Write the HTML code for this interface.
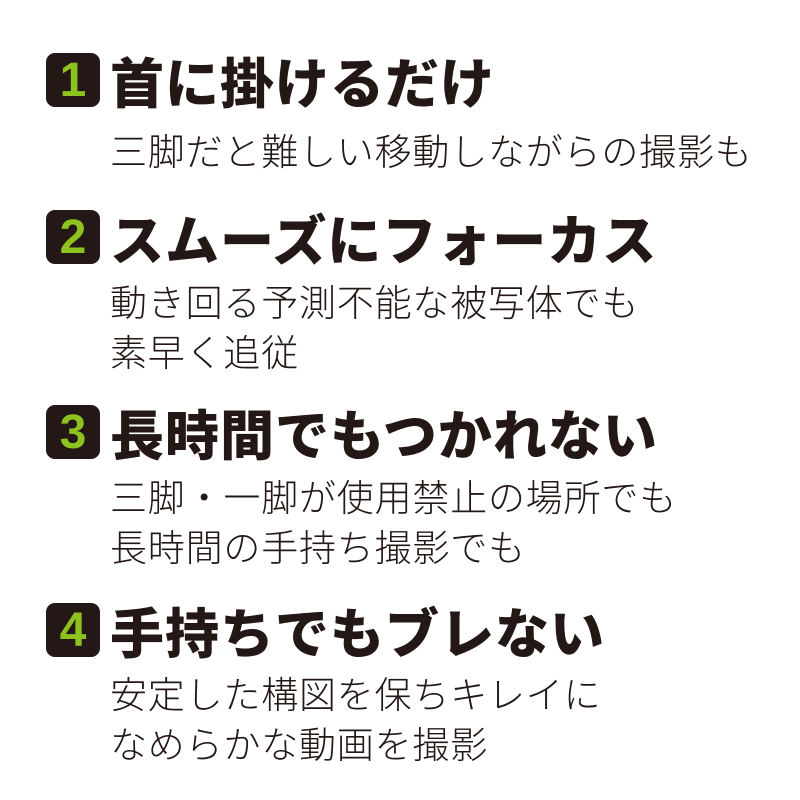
<!DOCTYPE html>
<html><head><meta charset="utf-8"><style>
html,body{margin:0;padding:0;background:#fff;}
body{width:800px;height:800px;position:relative;overflow:hidden;font-family:"Liberation Sans","Noto Sans CJK JP",sans-serif;color:#231815;}
.b{position:absolute;left:46px;width:54px;height:54px;background:#231815;border-radius:9px;color:#8dc21f;font-weight:900;font-size:48px;line-height:56px;text-align:center;font-family:"Liberation Sans",sans-serif;}
.h{position:absolute;left:110px;font-family:"Noto Sans CJK JP",sans-serif;font-weight:900;font-size:54px;line-height:54px;white-space:nowrap;letter-spacing:1px;}
.t{position:absolute;left:110px;font-family:"Noto Sans CJK JP",sans-serif;font-weight:300;font-size:37px;line-height:37px;white-space:nowrap;letter-spacing:0.8px;}
</style></head><body>
<div class="b" style="top:53px">1</div>
<div class="h" style="top:53px">首に掛けるだけ</div>
<div class="t" style="top:131px">三脚だと難しい移動しながらの撮影も</div>

<div class="b" style="top:210px">2</div>
<div class="h" style="top:210px">スムーズにフォーカス</div>
<div class="t" style="top:282px">動き回る予測不能な被写体でも</div>
<div class="t" style="top:332px">素早く追従</div>

<div class="b" style="top:405px">3</div>
<div class="h" style="top:405px">長時間でもつかれない</div>
<div class="t" style="top:477px">三脚・一脚が使用禁止の場所でも</div>
<div class="t" style="top:527px">長時間の手持ち撮影でも</div>

<div class="b" style="top:603px">4</div>
<div class="h" style="top:603px">手持ちでもブレない</div>
<div class="t" style="top:674px">安定した構図を保ちキレイに</div>
<div class="t" style="top:724px">なめらかな動画を撮影</div>
</body></html>
